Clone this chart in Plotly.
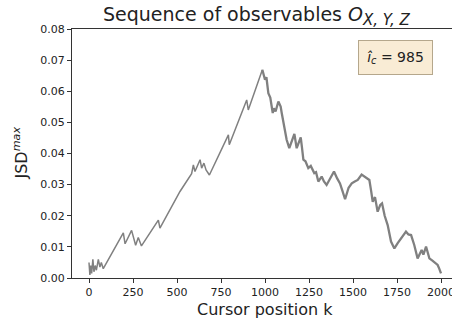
import plotly.graph_objects as go

# Cursor position k and JSD^max values
k_vals = [0, 5, 10, 15, 22, 28, 35, 42, 53, 62, 70, 81,
          195, 205, 242, 265, 280, 298, 394, 403, 517, 583, 593, 602, 631, 640, 653, 665, 684,
          792, 797, 896, 905, 985,
          992, 1000, 1008, 1019, 1030, 1044, 1050, 1060, 1076, 1089, 1095, 1104, 1115, 1123,
          1138, 1167, 1180, 1203, 1210, 1218, 1230, 1246, 1260, 1280, 1290, 1303, 1322, 1335,
          1350, 1392, 1410, 1426, 1440, 1455, 1475, 1493, 1510, 1527, 1549, 1565, 1580, 1593,
          1603, 1612, 1625, 1640, 1655, 1665, 1680, 1697, 1716, 1735, 1754, 1775, 1801, 1815,
          1830, 1848, 1867, 1890, 1900, 1915, 1925, 1934, 1953, 1970, 1981, 1990, 2000]
jsd_vals = [0.005, 0.001, 0.004, 0.0015, 0.006, 0.002, 0.004, 0.0025, 0.006, 0.0035, 0.005, 0.003,
            0.0145, 0.011, 0.0153, 0.0105, 0.013, 0.0103, 0.0186, 0.016, 0.0278, 0.0335, 0.0363,
            0.0342, 0.038, 0.0353, 0.0369, 0.0347, 0.0331,
            0.046, 0.0428, 0.0572, 0.054, 0.0669,
            0.065, 0.0637, 0.0645, 0.0594, 0.058, 0.053, 0.0545, 0.0535, 0.0567, 0.0551, 0.053,
            0.0503, 0.046, 0.0444,
            0.0417, 0.0463, 0.0417, 0.0452, 0.042, 0.038, 0.0375, 0.0353, 0.036, 0.0337, 0.034,
            0.031, 0.0326, 0.031,
            0.0299, 0.0342, 0.032, 0.0304, 0.028, 0.0253, 0.029, 0.0304, 0.031, 0.0315, 0.0332,
            0.0325, 0.032, 0.0315,
            0.028, 0.0245, 0.026, 0.0213, 0.0235, 0.024, 0.020, 0.017, 0.0117, 0.0095, 0.0112,
            0.013, 0.0149, 0.014,
            0.0138, 0.0106, 0.0063, 0.009, 0.0075, 0.0101, 0.008, 0.0063, 0.0055, 0.0045, 0.0042,
            0.003, 0.0015]
x_ticks = [0, 250, 500, 750, 1000, 1250, 1500, 1750, 2000]
y_ticks = [0.00, 0.01, 0.02, 0.03, 0.04, 0.05, 0.06, 0.07, 0.08]
i_c = 985

split = k_vals.index(i_c)

fig = go.Figure()
fig.add_trace(go.Scatter(x=k_vals[:split + 1], y=jsd_vals[:split + 1], mode="lines",
                         line=dict(color="#808080", width=1.5), showlegend=False))
fig.add_trace(go.Scatter(x=k_vals[split:], y=jsd_vals[split:], mode="lines",
                         line=dict(color="#808080", width=2.3), showlegend=False))

W, H = 452, 318
L, R, T, B = 72, 0, 29, 40
font = "DejaVu Sans"

fig.update_layout(
    width=W, height=H,
    margin=dict(l=L, r=R, t=T, b=B, autoexpand=False),
    paper_bgcolor="white", plot_bgcolor="white",
    font=dict(family=font, color="#222"),
    xaxis=dict(range=[-96.6, 2062.5], tickvals=x_ticks, ticks="outside", ticklen=4,
               tickcolor="#333", showline=True, linecolor="#333", linewidth=1, mirror=True,
               showgrid=False, zeroline=False, automargin=False, ticklabeloverflow="allow",
               tickfont=dict(size=11, family=font, color="#222")),
    yaxis=dict(range=[0, 0.08], tickvals=y_ticks, tickformat=".2f", ticks="outside", ticklen=4,
               tickcolor="#333", showline=True, linecolor="#333", linewidth=1,
               showgrid=False, zeroline=False, automargin=False, ticklabeloverflow="allow",
               tickfont=dict(size=11, family=font, color="#222")),
)

pw, ph = W - L - R, H - T - B
annotations = [
    # title
    dict(text="Sequence of observables <i>O</i><sub><span style='font-size:15px'><i>X, Y, Z</i></span></sub>",
         xref="paper", yref="paper", x=(257 - L) / pw, y=1 + (T - 16) / ph,
         xanchor="center", yanchor="middle", showarrow=False,
         font=dict(size=19, family=font, color="#222")),
    # x label
    dict(text="Cursor position k", xref="paper", yref="paper",
         x=(265 - L) / pw, y=-(309 - (T + ph)) / ph, xanchor="center", yanchor="middle",
         showarrow=False, font=dict(size=16, family=font, color="#222")),
    # y label
    dict(text="JSD<sup><i>max</i></sup>", xref="paper", yref="paper",
         x=-(L - 21) / pw, y=0.5, xanchor="center", yanchor="middle", textangle=-90,
         showarrow=False, font=dict(size=16, family=font, color="#222")),
    # estimated change point box
    dict(text="<i>î</i><sub><i>c</i></sub> = %d" % i_c, xref="paper", yref="paper",
         x=(395 - L) / pw, y=(T + ph - 57.5) / ph, xanchor="center", yanchor="middle",
         showarrow=False, bgcolor="#f9ecd5", bordercolor="#b5a78c", borderwidth=1,
         borderpad=5, width=63, height=23,
         font=dict(size=14, family=font, color="#222")),
]
fig.update_layout(annotations=annotations)

fig.write_html("out.html", config={"displayModeBar": False},
               post_script="document.body.style.margin='0';document.body.style.overflow='hidden';")
